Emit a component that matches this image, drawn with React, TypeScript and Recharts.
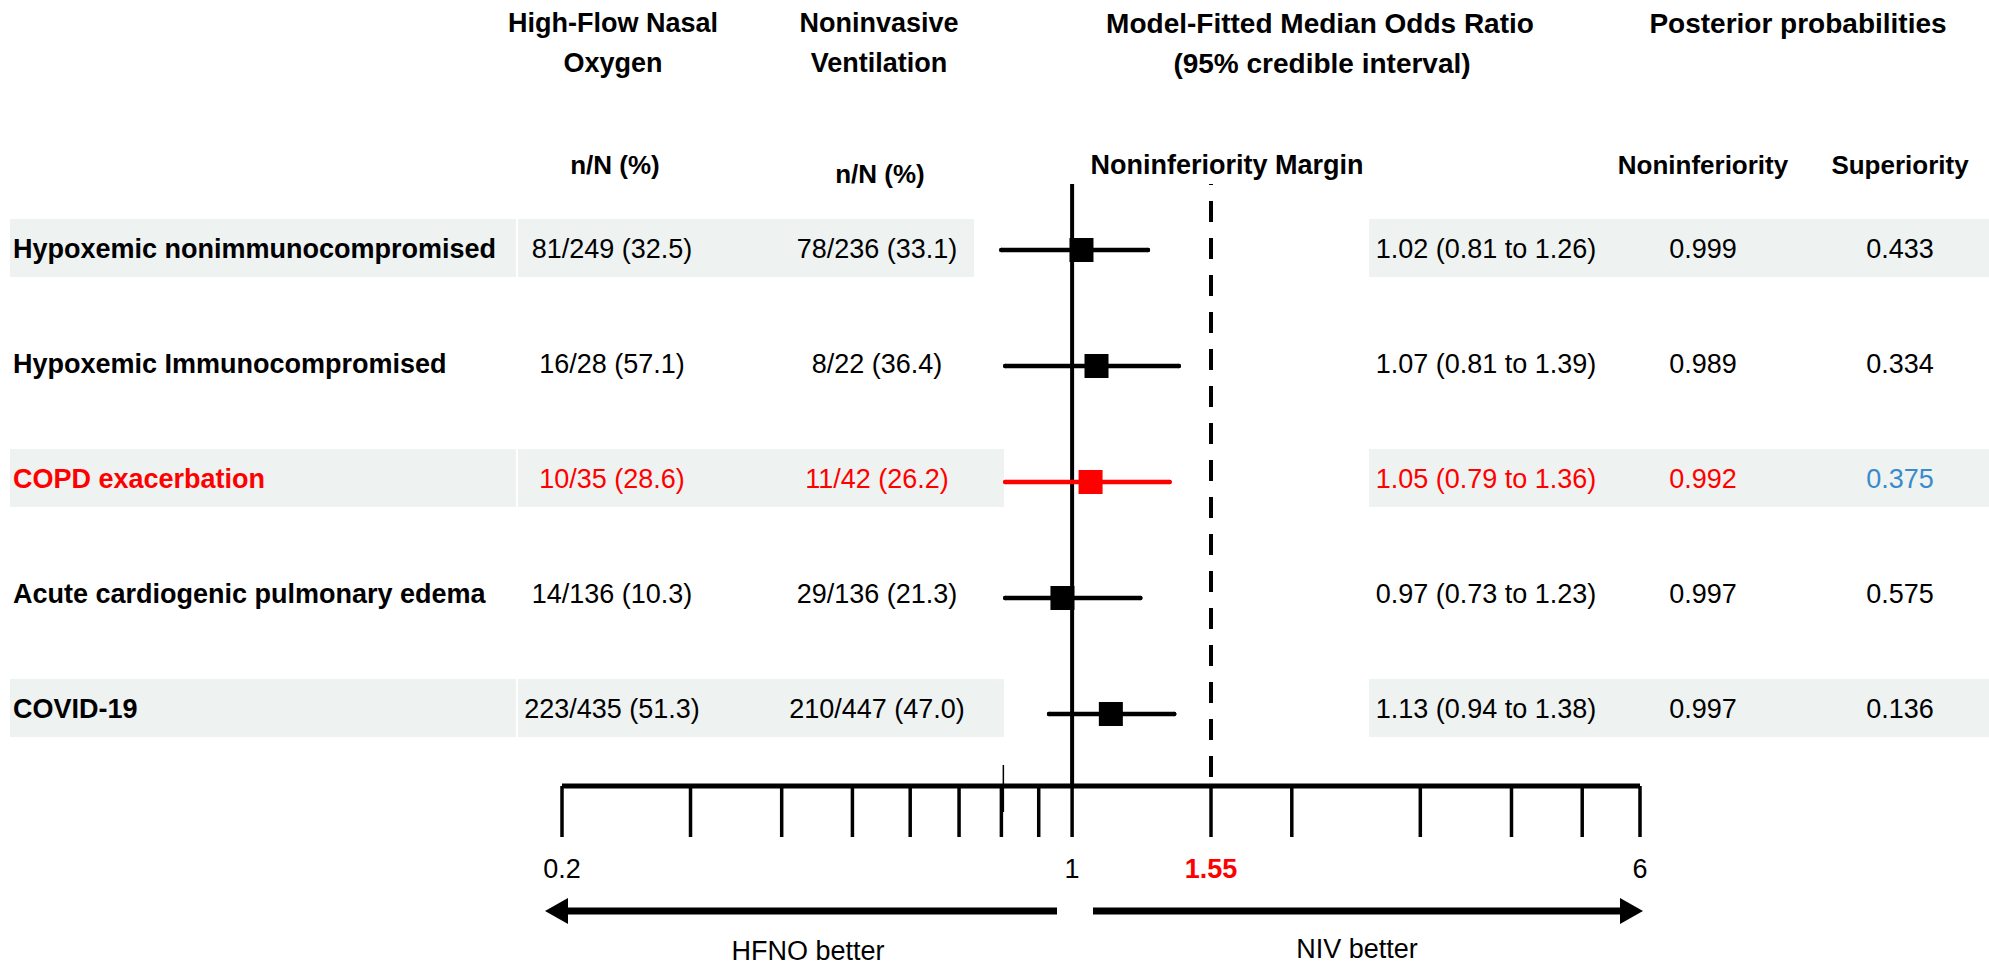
import {
  ErrorBar,
  ReferenceLine,
  Scatter,
  ScatterChart,
  XAxis,
  YAxis,
} from "recharts";

const groups = [
  "Hypoxemic nonimmunocompromised",
  "Hypoxemic Immunocompromised",
  "COPD exacerbation",
  "Acute cardiogenic pulmonary edema",
  "COVID-19",
];
const hfnoEvents = ["81/249 (32.5)", "16/28 (57.1)", "10/35 (28.6)", "14/136 (10.3)", "223/435 (51.3)"];
const nivEvents = ["78/236 (33.1)", "8/22 (36.4)", "11/42 (26.2)", "29/136 (21.3)", "210/447 (47.0)"];
const orText = [
  "1.02 (0.81 to 1.26)",
  "1.07 (0.81 to 1.39)",
  "1.05 (0.79 to 1.36)",
  "0.97 (0.73 to 1.23)",
  "1.13 (0.94 to 1.38)",
];
const probNoninferiority = ["0.999", "0.989", "0.992", "0.997", "0.997"];
const probSuperiority = ["0.433", "0.334", "0.375", "0.575", "0.136"];

// values as drawn in the plot
const oddsRatio = [1.03, 1.08, 1.06, 0.97, 1.13];
const ciLow = [0.8, 0.81, 0.81, 0.81, 0.93];
const ciHigh = [1.27, 1.4, 1.36, 1.24, 1.38];

const highlightRow = 2;
const shadedRows = [0, 2, 4];
const margin = 1.55;

const axisTicks = [0.2, 0.3, 0.4, 0.5, 0.6, 0.7, 0.8, 0.9, 1, 1.55, 2, 3, 4, 5, 6];
const tickLabels: Record<string, string> = { "0.2": "0.2", "1": "1", "1.55": "1.55", "6": "6" };

const W = 1989;
const H = 977;
const FONT = "'Liberation Sans', Arial, Helvetica, sans-serif";
const RED = "#ff0000";
const BLUE = "#3a8bcc";
const BAND = "#eef2f1";

const rowData = groups.map((g, i) => ({
  name: g,
  row: i,
  or: oddsRatio[i],
  ci: [oddsRatio[i] - ciLow[i], ciHigh[i] - oddsRatio[i]],
}));
const blackRows = rowData.filter((d) => d.row !== highlightRow);
const redRows = rowData.filter((d) => d.row === highlightRow);

// plot area: top 184, axis line at 786, rows 116px apart starting at 250
const plotTop = 184;
const axisY = 786;
const rowPx = 116;
const yMin = -(250 - plotTop) / rowPx;
const yMax = yMin + (axisY - plotTop) / rowPx;
const axisHeight = 150;

const square = (color: string) => (p: any) => {
  const s = 24;
  return <rect x={p.cx - s / 2} y={p.cy - s / 2} width={s} height={s} fill={color} />;
};

function AxisTick({ x, y, payload }: any) {
  const label = tickLabels[String(payload.value)];
  if (!label) return null;
  const isMargin = payload.value === margin;
  return (
    <text
      x={x}
      y={y + 30}
      textAnchor="middle"
      dominantBaseline="central"
      fontFamily={FONT}
      fontSize={27}
      fontWeight={isMargin ? 700 : 400}
      fill={isMargin ? RED : "#000"}
    >
      {label}
    </text>
  );
}

function Table() {
  const rowY = (i: number) => 249 + i * 115;
  const bandY = [248, 478, 708];
  const cell = (x: number, y: number, s: string, opts: any = {}) => (
    <text
      x={x}
      y={y}
      textAnchor={opts.anchor ?? "middle"}
      dominantBaseline="central"
      fontFamily={FONT}
      fontSize={opts.size ?? 27}
      fontWeight={opts.bold ? 700 : 400}
      fill={opts.color ?? "#000"}
    >
      {s}
    </text>
  );
  return (
    <svg width={W} height={H} style={{ position: "absolute", left: 0, top: 0 }}>
      {shadedRows.map((r, k) => (
        <g key={r}>
          <rect x={10} y={bandY[k] - 29} width={506} height={58} fill={BAND} />
          <rect x={518} y={bandY[k] - 29} width={r === 0 ? 456 : 486} height={58} fill={BAND} />
          <rect x={1369} y={bandY[k] - 29} width={W - 1369} height={58} fill={BAND} />
        </g>
      ))}

      {cell(613, 23, "High-Flow Nasal", { bold: true, size: 27 })}
      {cell(613, 63, "Oxygen", { bold: true, size: 27 })}
      {cell(879, 23, "Noninvasive", { bold: true, size: 27 })}
      {cell(879, 63, "Ventilation", { bold: true, size: 27 })}
      {cell(1320, 23, "Model-Fitted Median Odds Ratio", { bold: true, size: 28 })}
      {cell(1322, 63, "(95% credible interval)", { bold: true, size: 28 })}
      {cell(1798, 23, "Posterior probabilities", { bold: true, size: 28 })}

      {cell(615, 165, "n/N (%)", { bold: true, size: 26 })}
      {cell(880, 174, "n/N (%)", { bold: true, size: 26 })}
      {cell(1227, 165, "Noninferiority Margin", { bold: true, size: 27 })}
      {cell(1703, 165, "Noninferiority", { bold: true, size: 26 })}
      {cell(1900, 165, "Superiority", { bold: true, size: 26 })}

      {groups.map((g, i) => {
        const hl = i === highlightRow;
        const c = hl ? RED : "#000";
        const y = rowY(i);
        return (
          <g key={g}>
            {cell(13, y, g, { anchor: "start", bold: true, color: c })}
            {cell(612, y, hfnoEvents[i], { color: c })}
            {cell(877, y, nivEvents[i], { color: c })}
            {cell(1486, y, orText[i], { color: c })}
            {cell(1703, y, probNoninferiority[i], { color: c })}
            {cell(1900, y, probSuperiority[i], { color: hl ? BLUE : "#000" })}
          </g>
        );
      })}

      <line x1={1057} y1={911} x2={562} y2={911} stroke="#000" strokeWidth={7} />
      <polygon points="545,911 568,898 568,924" fill="#000" />
      <line x1={1093} y1={911} x2={1622} y2={911} stroke="#000" strokeWidth={7} />
      <polygon points="1643,911 1620,898 1620,924" fill="#000" />
      {cell(808, 951, "HFNO better")}
      {cell(1357, 949, "NIV better")}
    </svg>
  );
}

export default function App() {
  return (
    <div style={{ position: "absolute", left: 0, top: 0, width: W, height: H, background: "#fff" }}>
      <Table />
      <div style={{ position: "absolute", left: 0, top: 0 }}>
        <ScatterChart
          width={W}
          height={H}
          margin={{ top: plotTop, right: W - 1640, bottom: H - axisY - axisHeight, left: 562 }}
        >
          <XAxis
            dataKey="or"
            type="number"
            scale="log"
            domain={[0.2, 6]}
            allowDataOverflow
            ticks={axisTicks}
            interval={0}
            height={axisHeight}
            tickSize={51}
            tick={<AxisTick />}
            axisLine={{ stroke: "#000", strokeWidth: 5 }}
            tickLine={{ stroke: "#000", strokeWidth: 3.5 }}
          />
          <YAxis dataKey="row" type="number" domain={[yMin, yMax]} reversed hide />
          <ReferenceLine x={1} stroke="#000" strokeWidth={4} />
          <ReferenceLine
            x={margin}
            stroke="#000"
            strokeWidth={4}
            strokeDasharray="21 16"
            strokeDashoffset={-9}
          />
          <ReferenceLine
            segment={[
              { x: 0.805, y: yMin + (765 - plotTop) / rowPx },
              { x: 0.805, y: yMin + (812 - plotTop) / rowPx },
            ]}
            ifOverflow="visible"
            stroke="#000"
            strokeWidth={1.5}
          />
          <Scatter data={blackRows} shape={square("#000")} isAnimationActive={false}>
            <ErrorBar dataKey="ci" direction="x" width={0} stroke="#000" strokeWidth={4.5} strokeLinecap="round" />
          </Scatter>
          <Scatter data={redRows} shape={square(RED)} isAnimationActive={false}>
            <ErrorBar dataKey="ci" direction="x" width={0} stroke={RED} strokeWidth={4.5} strokeLinecap="round" />
          </Scatter>
        </ScatterChart>
      </div>
    </div>
  );
}
